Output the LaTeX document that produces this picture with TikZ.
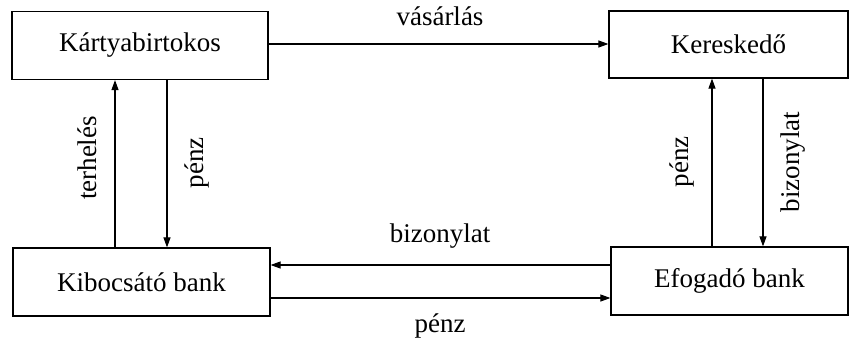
\documentclass[tikz,border=0pt]{standalone}
\usepackage{fontspec}
\setmainfont{Liberation Serif}
\usetikzlibrary{arrows.meta}
\begin{document}
\begin{tikzpicture}[x=1pt,y=-1pt,
  box/.style={draw,line width=1.2pt,inner sep=0pt},
  flow/.style={line width=1.1pt,-{Triangle[length=10pt,width=7pt]}},
  lbl/.style={font=\fontsize{27}{31}\selectfont,inner sep=0pt}]
\useasboundingbox (0,0) rectangle (857,343);
\node[box,minimum width=256pt,minimum height=68pt,lbl] (kb) at (140,45.5) {Kártyabirtokos};
\node[box,minimum width=239pt,minimum height=67pt,lbl] (ke) at (728.5,44.5) {Kereskedő};
\node[box,minimum width=257pt,minimum height=68pt,lbl] (ki) at (141.5,282) {Kibocsátó bank};
\node[box,minimum width=237pt,minimum height=68pt,lbl] (ef) at (729.5,281) {Efogadó bank};
% top horizontal
\draw[flow] (kb.east |- 0,44) -- (ke.west |- 0,44);
\node[lbl] (l1) at (440,16) {vásárlás};
% left verticals
\draw[flow] (115,0 |- ki.north) -- (115,0 |- kb.south);
\draw[flow] (167,0 |- kb.south) -- (167,0 |- ki.north);
\node[lbl,rotate=90] (l2) at (87,158) {terhelés};
\node[lbl,rotate=90] (l3) at (197,163) {pénz};
% right verticals
\draw[flow] (712,0 |- ef.north) -- (712,0 |- ke.south);
\draw[flow] (763,0 |- ke.south) -- (763,0 |- ef.north);
\node[lbl,rotate=90] (l4) at (682,162) {pénz};
\node[lbl,rotate=90] (l5) at (793,162) {bizonylat};
% bottom horizontals
\draw[flow] (ef.west |- 0,265) -- (ki.east |- 0,265);
\draw[flow] (ki.east |- 0,298) -- (ef.west |- 0,298);
\node[lbl] (l6) at (440,236) {bizonylat};
\node[lbl] (l7) at (440,326) {pénz};
\end{tikzpicture}
\end{document}
